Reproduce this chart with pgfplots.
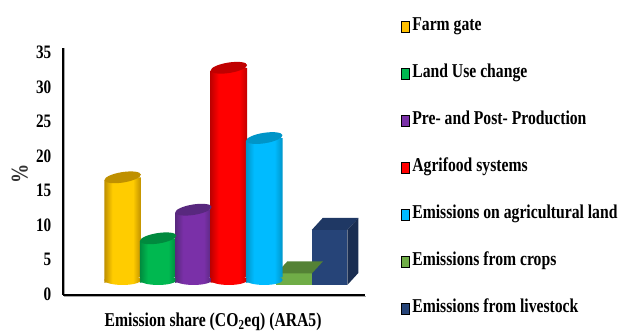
\documentclass[border=0pt]{standalone}
\usepackage{fontspec}
\setmainfont{Liberation Serif}[FakeStretch=0.8]
\usepackage{pgfplots}
\pgfplotsset{compat=1.18}
\definecolor{cyl}{HTML}{FFC000}
\definecolor{cya}{HTML}{FFCC00}\definecolor{cyb}{HTML}{BF9000}
\definecolor{cga}{HTML}{00B850}\definecolor{cgb}{HTML}{008A3E}
\definecolor{cpa}{HTML}{7A30A8}\definecolor{cpb}{HTML}{58287E}
\definecolor{cra}{HTML}{FF0000}\definecolor{crb}{HTML}{C00000}
\definecolor{cba}{HTML}{00BBFF}\definecolor{cbb}{HTML}{0095C8}
\definecolor{lga}{HTML}{70AD47}\definecolor{lgb}{HTML}{548235}
\definecolor{nva}{HTML}{264478}\definecolor{nvb}{HTML}{1F3864}\definecolor{nvc}{HTML}{1A2E52}
% tilted cap of a cylinder
\pgfdeclareplotmark{cyltop}{%
  \pgfpathellipse{\pgfpointorigin}{\pgfqpoint{18.2pt}{2.8pt}}{\pgfqpoint{-0.5pt}{5.2pt}}%
  \pgfusepathqfill}
% shading and base of a cylinder
\newcommand\defcyl[3]{%
  \pgfdeclarehorizontalshading{sh#1}{100bp}{color(0bp)=(#3); color(25bp)=(#3); color(36bp)=(#2); color(64bp)=(#2); color(75bp)=(#3); color(100bp)=(#3)}%
  \pgfdeclareplotmark{base#1}{%
  \path[rotate=8.7,draw=none,shading=sh#1]
    (0pt,0pt) ellipse[x radius=18.4pt,y radius=5pt];}}
\defcyl{y}{cya}{cyb}\defcyl{g}{cga}{cgb}\defcyl{p}{cpa}{cpb}\defcyl{r}{cra}{crb}\defcyl{b}{cba}{cbb}
% top and side of a box, its point lying 5.5pt right of the front face's centre
\pgfdeclareplotmark{boxlg}{%
  \pgfsetfillcolor{lgb}%
  \pgfpathmoveto{\pgfqpoint{-23.3pt}{0pt}}\pgfpathlineto{\pgfqpoint{12.3pt}{0pt}}%
  \pgfpathlineto{\pgfqpoint{23.3pt}{12pt}}\pgfpathlineto{\pgfqpoint{-12.3pt}{12pt}}\pgfpathclose\pgfusepathqfill}
\pgfdeclareplotmark{boxnv}{%
  \pgfsetfillcolor{nvb}%
  \pgfpathmoveto{\pgfqpoint{-23.3pt}{0pt}}\pgfpathlineto{\pgfqpoint{12.3pt}{0pt}}%
  \pgfpathlineto{\pgfqpoint{23.3pt}{12pt}}\pgfpathlineto{\pgfqpoint{-12.3pt}{12pt}}\pgfpathclose\pgfusepathqfill
  \pgfsetfillcolor{nvc}%
  \pgfpathmoveto{\pgfqpoint{12.3pt}{0pt}}\pgfpathlineto{\pgfqpoint{23.3pt}{12pt}}%
  \pgfpathlineto{\pgfqpoint{23.3pt}{-43pt}}\pgfpathlineto{\pgfqpoint{12.3pt}{-55pt}}\pgfpathclose\pgfusepathqfill}
\pgfplotsset{
  frame/.style={scale only axis,width=302pt,height=247pt,anchor=south west,
    at={(63pt,36pt)},xmin=-0.686,xmax=7.845,clip=false},
  sq/.style={legend image code/.code={\fill[##1] (0pt,-4.5pt) rectangle (8pt,7pt);}},
}
% cylinder: body (parallelogram through the value), base and cap
\newcommand\cyl[7]{%
  \addplot[only marks,draw=none,mark=base#1,mark options={draw=none}] coordinates {(#2,0)};
  \addplot[draw=none,shading=sh#1]
    coordinates {(#4,-0.41)(#4,#6)(#5,#7)(#5,0.41)} --cycle;
  \addplot[only marks,mark=cyltop,mark options={fill=#3,draw=none}] coordinates {(#2,#7)};
}
\begin{document}
\begin{tikzpicture}[x=1pt,y=1pt]
\useasboundingbox (0,0) rectangle (618,331);
\draw[gray!70,line width=1pt] (64.5,283) -- (64.5,34.5) -- (366,34.5);
\begin{axis}[frame,ymin=-0.3,ymax=35.55,axis x line=bottom,axis y line=left,
  axis line style={-,line width=1.2pt,black},
  xtick=\empty,ytick={0,5,...,35},tick style={draw=none},
  tick label style={font=\fontsize{19}{19}\selectfont\bfseries,/pgf/number format/assume math mode=true},
  yticklabel style={xshift=-6pt,yshift=-1pt},
  xlabel={\bfseries Emission share (CO\textsubscript{2}eq) (ARA5)},
  xlabel style={font=\fontsize{19.6}{19.6}\selectfont,at={(axis description cs:0.497,-0.108)},anchor=center},
  ylabel={\bfseries\%},
  ylabel style={font=\fontsize{24}{24}\selectfont,text=black!80,at={(axis description cs:-0.143,0.49)},anchor=center,rotate=0},
  legend style={draw=none,fill=none,at={(axis description cs:1.119,1.111)},anchor=north west,
    inner sep=0pt,outer sep=0pt,row sep=33.3pt,
    font=\fontsize{19.6}{19.6}\selectfont\bfseries,
    nodes={inner sep=0pt,text height=9pt,text depth=4pt}},
  legend cell align=left,
  /tikz/every odd column/.style={column sep=3pt},
]
\addlegendimage{sq,fill=cyl}\addlegendentry{Farm gate}
\addlegendimage{sq,fill=cga}\addlegendentry{Land Use change}
\addlegendimage{sq,fill=cpa}\addlegendentry{Pre- and Post- Production}
\addlegendimage{sq,fill=cra}\addlegendentry{Agrifood systems}
\addlegendimage{sq,fill=cba}\addlegendentry{Emissions on agricultural land}
\addlegendimage{sq,fill=lga}\addlegendentry{Emissions from crops}
\addlegendimage{sq,fill=nva}\addlegendentry{Emissions from livestock}
\end{axis}
% boxes
\begin{axis}[frame,ymin=-1.45,ymax=34.4,axis lines=none]
\addplot[ybar,bar width=35.6pt,bar shift=-5.5pt,draw=none,fill=lga] coordinates {(6,1.7)};
\addplot[only marks,mark=boxlg] coordinates {(6,1.7)};
\addplot[ybar,bar width=35.6pt,bar shift=-5.5pt,draw=none,fill=nva] coordinates {(7,8)};
\addplot[only marks,mark=boxnv] coordinates {(7,8)};
\end{axis}
% cylinders
\begin{axis}[frame,ymin=-2.18,ymax=33.67,axis lines=none]
\cyl{y}{1}{cyb}{0.483}{1.517}{14.49}{14.9}
\cyl{g}{2}{cgb}{1.483}{2.517}{5.64}{6.05}
\cyl{p}{3}{cpb}{2.483}{3.517}{9.79}{10.2}
\cyl{r}{4}{crb}{3.483}{4.517}{30.39}{30.8}
\cyl{b}{5}{cbb}{4.483}{5.517}{20.19}{20.6}
\end{axis}
\end{tikzpicture}
\end{document}
